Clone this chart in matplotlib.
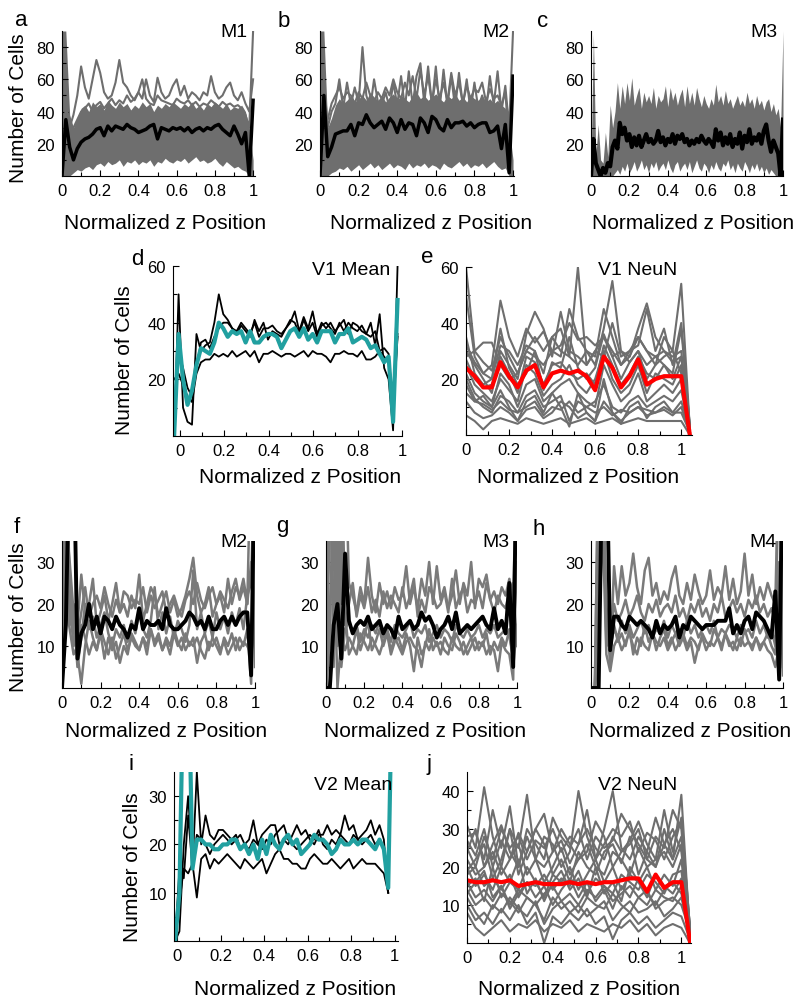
#plot cell counts vs normalized z position (10 panels)
import numpy as np
import matplotlib
matplotlib.use('Agg')
import matplotlib.pyplot as plt

plt.rcParams['font.family'] = ['Liberation Sans', 'DejaVu Sans']

GRAY = '#6e6e6e'
TEAL = '#21a0a0'

#---------------- data ----------------
x51 = np.linspace(0, 1, 51)
x81 = np.linspace(0, 1, 81)
x_d = np.linspace(-0.025, 0.98, 51)
x_i = np.linspace(-0.01, 0.99, 51)
x27 = np.linspace(0, 1.04, 27)

# panel a (M1)
a_mean = [0, 35, 18, 10, 17, 21, 23, 24, 26, 29,
          30, 25, 31, 28, 31, 30, 29, 32, 30, 29,
          27, 28, 29, 31, 32, 23, 30, 29, 28, 30,
          29, 30, 28, 30, 27, 29, 30, 28, 30, 29,
          31, 32, 29, 27, 25, 31, 26, 20, 27, 0,
          47]
a_lo = [0, 0, 0, 2, 4, 3, 5, 6, 4, 7,
        8, 6, 9, 7, 8, 10, 6, 9, 8, 10,
        7, 9, 8, 10, 6, 9, 8, 11, 9, 8,
        10, 9, 11, 8, 10, 12, 9, 10, 8, 9,
        11, 8, 6, 9, 7, 5, 6, 4, 3, 0,
        0]
a_hi = [90, 90, 38, 30, 36, 42, 44, 40, 46, 43,
        45, 41, 47, 44, 42, 46, 43, 45, 41, 44,
        42, 46, 43, 45, 40, 44, 42, 45, 43, 46,
        44, 42, 45, 43, 46, 42, 44, 41, 45, 43,
        46, 44, 42, 45, 41, 43, 42, 44, 40, 30,
        10]
a_gray = [
    [0, 45, 30, 38, 50, 68, 55, 48, 60, 72,
     64, 52, 48, 50, 58, 72, 58, 55, 50, 47,
     52, 60, 48, 45, 44, 50, 47, 46, 45, 44,
     48, 46, 45, 47, 44, 46, 43, 45, 44, 47,
     45, 43, 46, 44, 45, 43, 44, 42, 38, 30,
     90],
    [0, 30, 25, 30, 35, 40, 42, 45, 40, 44,
     46, 42, 45, 48, 44, 47, 45, 50, 46, 48,
     52, 48, 60, 50, 46, 61, 52, 48, 50, 56,
     60, 50, 56, 48, 52, 50, 47, 52, 50, 62,
     52, 48, 50, 55, 58, 50, 47, 52, 45, 40,
     60],
]

# panel b (M2)
b_mean = [0, 50, 12, 18, 26, 27, 28, 28, 32, 25,
          33, 32, 38, 33, 30, 32, 34, 29, 36, 33,
          27, 35, 29, 33, 32, 25, 36, 33, 27, 37,
          35, 30, 28, 35, 30, 33, 33, 34, 31, 33,
          30, 32, 33, 33, 27, 28, 31, 17, 32, 2,
          62]
b_lo = [0, 0, 0, 2, 3, 5, 4, 6, 3, 5,
        7, 4, 6, 8, 5, 7, 4, 6, 8, 5,
        7, 6, 4, 8, 5, 7, 6, 8, 5, 7,
        6, 4, 8, 6, 5, 7, 9, 6, 8, 5,
        7, 6, 8, 5, 7, 9, 6, 4, 5, 0,
        0]
b_hi = [90, 90, 30, 36, 44, 48, 45, 47, 50, 46,
        48, 50, 47, 52, 49, 47, 50, 46, 49, 51,
        47, 50, 48, 46, 50, 52, 48, 50, 47, 49,
        51, 48, 46, 50, 48, 51, 47, 49, 46, 50,
        48, 47, 50, 46, 48, 45, 47, 44, 42, 30,
        10]
b_gray = [
    [0, 60, 30, 40, 45, 60, 42, 58, 44, 55,
     45, 80, 50, 42, 60, 46, 44, 52, 42, 58,
     44, 62, 42, 65, 44, 62, 70, 45, 68, 44,
     68, 42, 66, 44, 62, 42, 64, 44, 60, 40,
     58, 42, 50, 40, 62, 44, 65, 40, 56, 30,
     90],
    [0, 40, 35, 45, 50, 55, 48, 52, 50, 45,
     52, 48, 58, 50, 46, 52, 48, 55, 50, 60,
     52, 48, 58, 50, 62, 48, 66, 50, 62, 45,
     60, 48, 58, 46, 64, 50, 58, 45, 56, 48,
     54, 52, 58, 46, 54, 48, 50, 44, 52, 20,
     60],
]

# panel c (M3)
c_mean = [0, 23, 8, 4, 0, 5, 2, 8, 6, 18,
          22, 17, 33, 26, 30, 22, 26, 18, 24, 19,
          25, 18, 22, 26, 21, 23, 20, 22, 28, 21,
          24, 19, 23, 21, 26, 20, 25, 23, 26, 21,
          23, 19, 22, 20, 23, 21, 25, 22, 20, 23,
          21, 18, 29, 22, 27, 19, 24, 20, 26, 18,
          23, 20, 27, 17, 25, 21, 29, 20, 24, 22,
          26, 20, 28, 32, 22, 15, 22, 18, 14, 0,
          35]
c_hi = [5, 88, 12, 32, 10, 8, 27, 12, 44, 30,
        40, 58, 42, 56, 45, 58, 47, 61, 44, 50,
        55, 42, 52, 46, 50, 45, 55, 42, 50, 46,
        48, 56, 43, 55, 47, 52, 44, 50, 54, 43,
        56, 45, 52, 44, 55, 48, 43, 50, 45, 42,
        48, 44, 57, 46, 50, 44, 53, 45, 48, 42,
        46, 50, 44, 47, 43, 52, 45, 48, 42, 50,
        44, 47, 41, 46, 48, 40, 45, 38, 42, 30,
        90]
c_lo = [0, 0, 0, 0, 0, 0, 0, 0, 0, 0,
        2, 4, 1, 6, 3, 8, 2, 5, 9, 3,
        6, 10, 4, 7, 2, 8, 5, 9, 3, 6,
        8, 4, 10, 5, 2, 7, 9, 3, 6, 8,
        4, 9, 2, 6, 10, 5, 3, 8, 6, 2,
        7, 4, 9, 5, 3, 8, 6, 10, 4, 7,
        2, 8, 5, 3, 9, 6, 2, 7, 4, 8,
        3, 6, 2, 5, 1, 4, 2, 0, 0, 0,
        0]

# panel d (V1 Mean)
d_mean = [0, 36, 20, 11, 16, 25, 31, 30, 29, 33,
          40, 38, 35, 37, 36, 37, 33, 37, 33, 33,
          35, 36, 36, 35, 31, 34, 37, 38, 35, 38,
          34, 36, 33, 37, 37, 37, 33, 36, 36, 38,
          33, 34, 35, 34, 31, 32, 29, 26, 28, 5,
          48]
d_lines = [
    [0, 50, 10, 5, 4, 36, 30, 32, 33, 40,
     50, 43, 41, 38, 36, 39, 37, 35, 41, 37,
     40, 34, 37, 36, 35, 38, 40, 44, 37, 42,
     38, 44, 36, 40, 38, 40, 37, 39, 41, 36,
     40, 39, 37, 36, 40, 32, 43, 24, 20, 2,
     60],
    [20, 22, 18, 14, 12, 22, 26, 27, 27, 29,
     28, 29, 28, 30, 28, 29, 30, 28, 30, 26,
     29, 29, 30, 29, 28, 29, 29, 28, 29, 30,
     28, 30, 29, 29, 28, 26, 29, 29, 30, 29,
     29, 28, 30, 27, 27, 28, 30, 31, 29, 10,
     36],
    [5, 30, 24, 17, 14, 24, 33, 34, 31, 35,
     38, 40, 40, 38, 37, 40, 38, 36, 40, 35,
     38, 38, 39, 37, 36, 38, 41, 40, 36, 41,
     37, 40, 35, 39, 40, 38, 36, 40, 37, 40,
     38, 37, 39, 36, 35, 37, 30, 28, 26, 8,
     35],
]

# panel e (V1 NeuN)
e_mean = [24, 21, 17, 17, 26, 21, 17, 23, 25, 17,
          22, 23, 22, 23, 21, 16, 28, 24, 17, 21,
          27, 18, 20, 21, 21, 21, 0]
e_gray = [
    [60, 30, 33, 33, 25, 20, 22, 30, 35, 30, 35, 38, 28, 60, 25, 30, 28, 40, 28, 30, 35, 30, 25, 35, 30, 54, 2],
    [50, 28, 22, 25, 48, 35, 28, 38, 33, 37, 30, 28, 45, 35, 30, 25, 38, 55, 30, 28, 38, 47, 35, 30, 28, 30, 1],
    [30, 25, 20, 15, 30, 25, 20, 36, 44, 38, 28, 44, 30, 28, 25, 30, 35, 30, 25, 30, 32, 45, 30, 38, 25, 40, 3],
    [28, 30, 26, 23, 35, 28, 22, 30, 28, 25, 30, 32, 40, 34, 35, 32, 35, 28, 30, 26, 30, 25, 28, 30, 26, 28, 2],
    [25, 18, 15, 12, 20, 16, 12, 25, 22, 14, 18, 20, 25, 18, 15, 20, 30, 20, 15, 18, 25, 15, 22, 20, 18, 25, 1],
    [22, 15, 12, 10, 22, 18, 10, 18, 20, 12, 15, 18, 20, 15, 12, 10, 25, 18, 12, 15, 22, 12, 15, 18, 15, 20, 2],
    [20, 13, 10, 8, 14, 12, 8, 14, 16, 10, 12, 14, 5, 12, 10, 12, 18, 10, 8, 12, 14, 10, 12, 14, 12, 16, 1],
    [18, 12, 14, 10, 16, 10, 5, 12, 14, 8, 15, 10, 3, 15, 8, 5, 20, 8, 4, 10, 12, 6, 10, 12, 8, 12, 2],
    [15, 12, 11, 9, 12, 9, 8, 10, 12, 7, 10, 9, 12, 8, 10, 8, 10, 7, 9, 8, 10, 9, 8, 9, 7, 10, 1],
    [7, 5, 2, 5, 6, 5, 4, 6, 5, 4, 5, 6, 4, 5, 6, 4, 5, 6, 4, 5, 6, 5, 5, 5, 5, 5, 0],
    [35, 22, 18, 20, 32, 30, 25, 32, 30, 22, 35, 30, 28, 25, 30, 28, 45, 35, 25, 28, 35, 30, 28, 25, 22, 38, 3],
    [27, 20, 17, 18, 28, 22, 15, 28, 26, 18, 25, 26, 22, 20, 22, 18, 32, 25, 18, 22, 28, 22, 20, 25, 20, 28, 2],
    [32, 26, 22, 20, 38, 24, 18, 22, 30, 16, 26, 24, 35, 24, 20, 24, 36, 28, 20, 26, 30, 20, 25, 28, 30, 22, 4],
    [12, 8, 6, 7, 10, 8, 5, 9, 10, 6, 8, 12, 10, 6, 8, 5, 12, 8, 5, 8, 10, 7, 8, 10, 8, 8, 1],
]

# panel f (M2)
f_mean = [0, 15, 60, 60, 7, 13, 15, 20, 14, 17,
          13, 17, 16, 14, 17, 15, 14, 12, 15, 14,
          19, 14, 16, 15, 15, 16, 14, 19, 15, 14,
          14, 15, 16, 18, 17, 15, 16, 14, 17, 14,
          14, 16, 17, 15, 17, 15, 17, 18, 18, 3,
          60]
f_gray = [
    [60, 60, 20, 10, 15, 27, 18, 20, 26, 15,
     18, 22, 16, 20, 25, 18, 20, 17, 22, 19,
     27, 16, 20, 24, 22, 17, 20, 23, 18, 21,
     17, 19, 22, 26, 31, 22, 18, 20, 24, 17,
     20, 22, 18, 26, 20, 24, 22, 26, 20, 60,
     5],
    [0, 40, 30, 18, 5, 12, 20, 14, 17, 12,
     15, 18, 13, 10, 14, 12, 15, 11, 16, 13,
     18, 14, 12, 16, 24, 14, 18, 13, 17, 12,
     16, 14, 11, 15, 28, 14, 18, 13, 16, 12,
     18, 14, 17, 13, 18, 15, 19, 14, 22, 25,
     60],
    [0, 60, 25, 14, 8, 1, 10, 16, 12, 9,
     14, 11, 8, 12, 7, 10, 13, 9, 12, 10,
     9, 12, 10, 14, 11, 13, 9, 12, 10, 14,
     11, 9, 13, 10, 12, 6, 11, 13, 9, 12,
     10, 8, 12, 10, 13, 9, 12, 10, 14, 1,
     60],
    [60, 30, 15, 20, 12, 18, 24, 17, 20, 22,
     19, 24, 20, 17, 21, 18, 23, 22, 19, 21,
     20, 24, 18, 22, 19, 21, 23, 18, 20, 22,
     19, 17, 21, 23, 20, 25, 21, 19, 22, 24,
     20, 23, 21, 19, 23, 26, 21, 24, 20, 30,
     10],
    [10, 20, 14, 8, 10, 15, 12, 8, 11, 9,
     13, 7, 12, 9, 11, 6, 10, 8, 13, 11,
     9, 12, 8, 14, 10, 12, 9, 11, 8, 13,
     10, 12, 9, 11, 10, 12, 9, 7, 11, 10,
     12, 9, 11, 8, 10, 12, 9, 11, 10, 8,
     15],
]

# panel g (M3)
g_mean = [0, 0, 15, 20, 7, 32, 16, 13, 15, 16,
          15, 17, 14, 15, 16, 13, 15, 14, 12, 17,
          14, 15, 16, 14, 15, 18, 16, 17, 15, 12,
          14, 15, 17, 14, 18, 13, 14, 15, 14, 15,
          16, 17, 15, 14, 19, 14, 16, 13, 25, 5,
          60]
g_gray = [
    [0, 60, 5, 60, 20, 60, 25, 22, 18, 24,
     20, 31, 22, 18, 25, 20, 23, 19, 24, 21,
     22, 29, 20, 24, 19, 26, 22, 30, 20, 29,
     21, 24, 19, 22, 28, 20, 25, 22, 30, 19,
     26, 24, 27, 21, 23, 20, 24, 22, 26, 20,
     60],
    [0, 40, 60, 10, 35, 15, 20, 25, 17, 22,
     19, 24, 18, 21, 17, 23, 19, 22, 20, 18,
     24, 19, 22, 26, 17, 21, 18, 24, 22, 19,
     20, 23, 18, 26, 19, 22, 24, 18, 21, 20,
     23, 19, 25, 21, 18, 22, 20, 19, 23, 25,
     10],
    [0, 20, 35, 0, 12, 9, 12, 10, 8, 13,
     11, 9, 12, 10, 8, 11, 13, 9, 12, 10,
     8, 11, 12, 10, 9, 5, 11, 9, 12, 10,
     11, 9, 8, 12, 10, 9, 11, 8, 10, 12,
     9, 11, 8, 10, 9, 4, 11, 9, 8, 2,
     60],
    [0, 60, 15, 40, 5, 14, 16, 13, 15, 11,
     14, 12, 15, 13, 16, 12, 14, 11, 15, 13,
     12, 14, 16, 12, 14, 13, 15, 11, 13, 15,
     12, 14, 13, 11, 15, 13, 12, 14, 12, 13,
     15, 12, 14, 13, 15, 12, 13, 14, 12, 8,
     30],
    [0, 10, 60, 20, 60, 18, 8, 10, 14, 9,
     12, 16, 9, 11, 14, 10, 13, 8, 11, 12,
     9, 13, 10, 4, 12, 8, 10, 14, 9, 11,
     8, 12, 10, 9, 13, 11, 8, 10, 12, 9,
     11, 10, 13, 8, 11, 9, 12, 10, 14, 5,
     15],
]

# panel h (M4)
h_mean = [0, 0, 0, 60, 60, 9, 17, 17, 15, 14,
          17, 16, 15, 16, 15, 14, 12, 16, 13, 15,
          14, 15, 17, 12, 15, 14, 17, 16, 15, 14,
          15, 15, 15, 16, 16, 16, 19, 13, 15, 13,
          16, 17, 14, 18, 17, 16, 14, 12, 23, 2,
          60]
h_gray = [
    [0, 0, 60, 40, 20, 5, 29, 20, 29, 22,
     25, 32, 24, 20, 28, 31, 22, 25, 20, 23,
     21, 26, 29, 22, 20, 25, 21, 27, 23, 20,
     22, 28, 21, 24, 22, 29, 21, 26, 20, 23,
     32, 22, 27, 20, 24, 21, 25, 22, 20, 60,
     5],
    [0, 0, 30, 60, 10, 12, 20, 16, 18, 21,
     17, 19, 22, 18, 16, 20, 18, 21, 17, 19,
     20, 18, 22, 17, 19, 16, 20, 18, 21, 17,
     19, 16, 20, 18, 22, 17, 19, 21, 18, 20,
     17, 21, 19, 22, 18, 20, 17, 19, 16, 20,
     30],
    [0, 0, 10, 40, 8, 4, 10, 12, 9, 11,
     13, 10, 8, 12, 10, 9, 13, 11, 10, 12,
     9, 11, 13, 10, 12, 9, 11, 6, 10, 12,
     9, 11, 10, 12, 9, 13, 10, 11, 9, 12,
     10, 11, 9, 12, 10, 11, 9, 8, 5, 10,
     20],
    [0, 0, 60, 60, 15, 10, 14, 12, 16, 13,
     15, 12, 14, 16, 13, 15, 12, 14, 13, 16,
     12, 15, 13, 14, 12, 16, 13, 15, 12, 14,
     15, 13, 16, 12, 14, 13, 15, 14, 12, 15,
     13, 14, 12, 16, 13, 15, 12, 14, 10, 60,
     10],
    [0, 0, 20, 60, 12, 9, 15, 11, 13, 10,
     14, 8, 12, 10, 15, 11, 13, 9, 12, 14,
     10, 12, 9, 11, 13, 10, 12, 11, 9, 13,
     11, 10, 14, 12, 10, 13, 11, 9, 12, 10,
     14, 11, 10, 12, 9, 11, 13, 10, 8, 30,
     3],
]

# panel i (V2 Mean)
i_mean = [0, 10, 60, 60, 15, 21, 21, 20, 20, 19,
          19, 20, 20, 21, 21, 19, 20, 18, 20, 17,
          21, 18, 22, 20, 19, 21, 22, 20, 21, 18,
          19, 20, 22, 21, 21, 20, 18, 19, 21, 20,
          20, 21, 20, 21, 21, 20, 19, 21, 19, 11,
          60]
i_lines = [
    [0, 15, 13, 26, 15, 35, 20, 26, 22, 21,
     23, 23, 22, 21, 22, 19, 20, 21, 25, 20,
     22, 23, 24, 24, 20, 21, 20, 22, 24, 22,
     23, 21, 20, 22, 22, 24, 22, 23, 22, 26,
     23, 24, 21, 22, 23, 25, 22, 24, 21, 10],
    [0, 8, 15, 14, 16, 9, 17, 18, 15, 17,
     16, 17, 18, 17, 16, 15, 17, 16, 15, 16,
     17, 14, 16, 18, 19, 17, 17, 16, 16, 15,
     15, 17, 18, 17, 16, 16, 17, 16, 15, 16,
     17, 15, 16, 17, 16, 16, 16, 15, 14, 10],
    [0, 2, 20, 30, 16, 22, 21, 20, 18, 20,
     21, 22, 21, 20, 21, 22, 20, 19, 21, 20,
     19, 21, 20, 22, 23, 24, 21, 20, 19, 20,
     21, 22, 21, 23, 20, 19, 21, 20, 22, 21,
     20, 22, 21, 20, 21, 22, 20, 21, 19, 10],
]

# panel j (V2 NeuN)
j_mean = [16.5, 16, 16, 16.5, 16, 16.5, 15, 15.5, 16, 15.5,
          15.5, 15.5, 16, 15.5, 16, 15.5, 16, 16, 16.5, 17,
          17, 13.5, 18, 14.5, 16, 16, 0.5]
j_gray = [
    [31, 25, 41, 28, 20, 30, 25, 39, 22, 28, 26, 20, 24, 40, 28, 22, 30, 40, 25, 22, 28, 24, 33, 26, 22, 39, 2],
    [28, 29, 22, 35, 25, 36, 20, 30, 26, 22, 33, 28, 25, 30, 22, 28, 25, 27, 34, 30, 26, 22, 28, 25, 35, 30, 3],
    [25, 20, 28, 22, 30, 25, 28, 22, 27, 25, 30, 24, 28, 26, 35, 22, 26, 30, 28, 32, 24, 29, 27, 22, 28, 32, 4],
    [22, 18, 20, 24, 18, 22, 26, 18, 22, 16, 20, 25, 18, 22, 26, 20, 18, 24, 22, 18, 25, 20, 22, 24, 20, 26, 2],
    [20, 15, 18, 14, 20, 16, 14, 20, 16, 12, 18, 16, 20, 14, 18, 22, 16, 20, 14, 18, 16, 20, 14, 18, 15, 22, 1],
    [18, 20, 15, 17, 14, 18, 12, 16, 15, 18, 14, 17, 15, 19, 13, 17, 15, 13, 18, 16, 14, 18, 16, 13, 18, 19, 2],
    [16, 12, 14, 11, 15, 10, 14, 12, 10, 13, 15, 11, 13, 10, 14, 12, 15, 11, 13, 15, 12, 10, 14, 12, 11, 15, 1],
    [14, 10, 12, 9, 13, 11, 8, 12, 10, 6, 12, 9, 11, 8, 12, 10, 9, 13, 10, 8, 12, 14, 9, 11, 12, 10, 3],
    [12, 8, 5, 10, 8, 12, 9, 7, 11, 5, 9, 11, 8, 10, 7, 9, 11, 6, 9, 11, 8, 9, 11, 7, 9, 12, 2],
    [10, 6, 8, 5, 9, 6, 10, 5, 8, 0, 7, 5, 8, 6, 9, 5, 7, 1, 6, 8, 5, 7, 4, 6, 8, 7, 1],
    [8, 4, 2, 4, 6, 3, 5, 4, 6, 3, 5, 4, 6, 3, 5, 4, 3, 5, 4, 6, 3, 5, 2, 4, 5, 4, 0],
    [24, 30, 20, 26, 31, 24, 20, 28, 22, 20, 24, 30, 26, 22, 24, 32, 28, 20, 24, 26, 30, 22, 20, 26, 30, 24, 5],
    [19, 22, 26, 17, 22, 30, 18, 24, 30, 26, 18, 22, 16, 24, 20, 18, 24, 26, 21, 28, 18, 24, 20, 30, 22, 28, 3],
    [15, 17, 11, 20, 12, 16, 22, 13, 17, 11, 16, 19, 14, 17, 12, 20, 13, 16, 11, 20, 16, 12, 18, 15, 13, 17, 2],
    [13, 16, 19, 12, 15, 9, 13, 16, 12, 15, 10, 14, 17, 12, 16, 11, 14, 9, 15, 12, 17, 13, 10, 14, 16, 13, 1],
    [27, 23, 30, 20, 27, 22, 29, 24, 30, 34, 24, 27, 21, 26, 30, 25, 22, 28, 24, 27, 32, 26, 22, 35, 24, 33, 4],
]

#---------------- layout helpers (pixel coords) ----------------
W, H = 800, 1004
fig = plt.figure(figsize=(W / 100, H / 100), dpi=100)


def add_ax(l, t, r, b):
    return fig.add_axes([l / W, 1 - b / H, (r - l) / W, (b - t) / H])


def ptext(x, y, s, **kw):
    fig.text(x / W, 1 - y / H, s, **kw)


def style(ax, xlim, ylim, yticks, yminor):
    ax.set_xlim(*xlim)
    ax.set_ylim(*ylim)
    for s in ['top', 'right']:
        ax.spines[s].set_visible(False)
    for s in ['left', 'bottom']:
        ax.spines[s].set_linewidth(0.8)
    ax.set_xticks([0, 0.2, 0.4, 0.6, 0.8, 1.0])
    ax.set_xticklabels(['0', '0.2', '0.4', '0.6', '0.8', '1'])
    ax.set_xticks([0.1, 0.3, 0.5, 0.7, 0.9], minor=True)
    ax.set_yticks(yticks)
    ax.set_yticks(yminor, minor=True)
    ax.tick_params(which='both', direction='in', labelsize=12, width=0.8)
    ax.tick_params(which='major', length=4, pad=5)
    ax.tick_params(which='minor', length=3)


def band_panel(ax, x, lo, hi, gray, mean, mlw=2.5):
    ax.fill_between(x, lo, hi, color=GRAY, lw=0)
    for g in gray:
        ax.plot(x, g, color=GRAY, lw=1.5)
    ax.plot(x, mean, color='black', lw=mlw)


def gray_panel(ax, x, gray, mean, mcolor, mlw, glw=1.5, gcolor=GRAY):
    for g in gray:
        ax.plot(x, g, color=gcolor, lw=glw)
    ax.plot(x, mean, color=mcolor, lw=mlw)


#---------------- row 1 ----------------
ax = add_ax(62, 32, 255, 177)
band_panel(ax, x51, a_lo, a_hi, a_gray, a_mean)
style(ax, (0, 1.01), (0, 90), [20, 40, 60, 80], [10, 30, 50, 70])

ax = add_ax(320, 32, 514, 177)
band_panel(ax, x51, b_lo, b_hi, b_gray, b_mean)
style(ax, (0, 1.005), (0, 90), [20, 40, 60, 80], [10, 30, 50, 70])

ax = add_ax(591, 32, 783, 177)
band_panel(ax, x81, c_lo, c_hi, [], c_mean, mlw=3)
style(ax, (0, 1.0), (0, 90), [20, 40, 60, 80], [10, 30, 50, 70])

#---------------- row 2 ----------------
ax = add_ax(173, 267, 402, 437)
gray_panel(ax, x_d, d_lines, d_mean, TEAL, 3, glw=1.3, gcolor='black')
style(ax, (-0.03, 1.0), (0, 60), [20, 40, 60], [10, 30, 50])

ax = add_ax(466, 268, 692, 436)
gray_panel(ax, x27, e_gray, e_mean, 'red', 3)
style(ax, (0, 1.05), (0, 60), [20, 40, 60], [10, 30, 50])

#---------------- row 3 ----------------
ax = add_ax(62, 542, 255, 689)
gray_panel(ax, x51, f_gray, f_mean, 'black', 2.8, glw=1.8, gcolor='#7a7a7a')
style(ax, (0, 1.0), (0, 35), [10, 20, 30], [5, 15, 25])

ax = add_ax(326, 542, 517, 689)
gray_panel(ax, x51, g_gray, g_mean, 'black', 2.8, glw=1.8, gcolor='#7a7a7a')
style(ax, (0, 1.0), (0, 35), [10, 20, 30], [5, 15, 25])

ax = add_ax(591, 542, 783, 689)
gray_panel(ax, x51, h_gray, h_mean, 'black', 2.8, glw=1.8, gcolor='#7a7a7a')
style(ax, (0, 1.0), (0, 35), [10, 20, 30], [5, 15, 25])

#---------------- row 4 ----------------
ax = add_ax(174, 773, 398, 942)
for ln in i_lines:
    ax.plot(x_i[:len(ln)], ln, color='black', lw=1.3)
ax.plot(x_i, i_mean, color=TEAL, lw=3)
style(ax, (-0.015, 1.015), (0, 35), [10, 20, 30], [5, 15, 25])

ax = add_ax(467, 773, 691, 944)
gray_panel(ax, x27, j_gray, j_mean, 'red', 3)
style(ax, (0, 1.045), (0, 45), [10, 20, 30, 40], [5, 15, 25, 35])

#---------------- texts ----------------
letters = [('a', 21, 26), ('b', 284, 27), ('c', 543, 27), ('d', 137, 265), ('e', 427, 263),
           ('f', 17, 533), ('g', 282, 532), ('h', 539, 535), ('i', 131, 770), ('j', 429, 770)]
for s, x, y in letters:
    ptext(x, y, s, fontsize=16, ha='center', va='baseline')

names = [('M1', 247, 37), ('M2', 510, 37), ('M3', 777, 37), ('V1 Mean', 390, 275),
         ('V1 NeuN', 677, 275), ('M2', 248, 547), ('M3', 510, 547), ('M4', 777, 547),
         ('V2 Mean', 392, 790), ('V2 NeuN', 677, 790)]
for s, x, y in names:
    ptext(x, y, s, fontsize=14, ha='right', va='baseline')

xlabs = [(165, 229), (431, 229), (693, 229), (300, 483), (578, 483),
         (166, 737), (425, 737), (690, 737), (295, 995), (579, 995)]
for x, y in xlabs:
    ptext(x, y, 'Normalized z Position', fontsize=15, ha='center', va='baseline')

for x, y in [(19, 108), (124, 360), (19, 617), (132, 867)]:
    ptext(x, y, 'Number of Cells', fontsize=15, rotation=90, ha='center', va='center')

fig.savefig('out.png', dpi=100)
